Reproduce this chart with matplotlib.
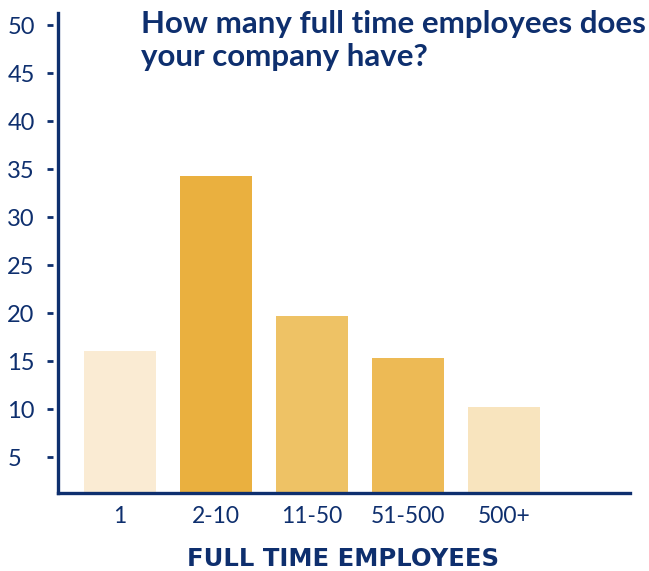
import matplotlib
matplotlib.use("Agg")
import matplotlib.pyplot as plt
import matplotlib.transforms as mtransforms

# --- Data ---
categories = ["1", "2-10", "11-50", "51-500", "500+"]
values = [16.0, 34.3, 19.7, 15.3, 10.2]
bar_colors = ["#FAEBD3", "#EAB03F", "#EEC265", "#EDBA55", "#F8E4BE"]
yticks = [5, 10, 15, 20, 25, 30, 35, 40, 45, 50]

NAVY = "#0E2F6E"
plt.rcParams["font.family"] = ["Lato", "DejaVu Sans"]

fig = plt.figure(figsize=(6.49, 5.71), dpi=100)
ax = fig.add_axes([0.0894, 0.1366, 0.8816, 0.8404])

xs = list(range(len(categories)))
ax.bar(xs, values, width=0.75, color=bar_colors, bottom=0)

ax.set_xlim(-0.646, 5.31)
ax.set_ylim(1.25, 51.25)

for side in ("top", "right"):
    ax.spines[side].set_visible(False)
for side in ("left", "bottom"):
    ax.spines[side].set_color(NAVY)
    ax.spines[side].set_linewidth(2.4)

# x ticks: labels only
ax.set_xticks(xs)
ax.set_xticklabels(categories, fontsize=16.5, color=NAVY)
ax.tick_params(axis="x", length=0, pad=9)

# y ticks: left-aligned labels with detached dashes
ax.set_yticks(yticks)
ax.set_yticklabels([str(t) for t in yticks], fontsize=17, color=NAVY, ha="left")
ax.tick_params(axis="y", length=0, pad=36.5)
dash_tr = mtransforms.blended_transform_factory(
    mtransforms.offset_copy(ax.transAxes, fig=fig, x=-8, y=0, units="dots"), ax.transData)
ax.plot([0] * len(yticks), yticks, linestyle="none", marker="_", markersize=5,
        markeredgewidth=2, color=NAVY, transform=dash_tr, clip_on=False)

fig.text(0.529, 0.009, "FULL TIME EMPLOYEES", fontsize=17.5, fontweight="bold",
         family="DejaVu Sans", color=NAVY, ha="center", va="baseline")

fig.text(0.217, 0.982, "How many full time employees does\nyour company have?",
         fontsize=22.5, fontweight="bold", color=NAVY, ha="left", va="top",
         linespacing=1.2)

fig.savefig("out.png", dpi=100)
